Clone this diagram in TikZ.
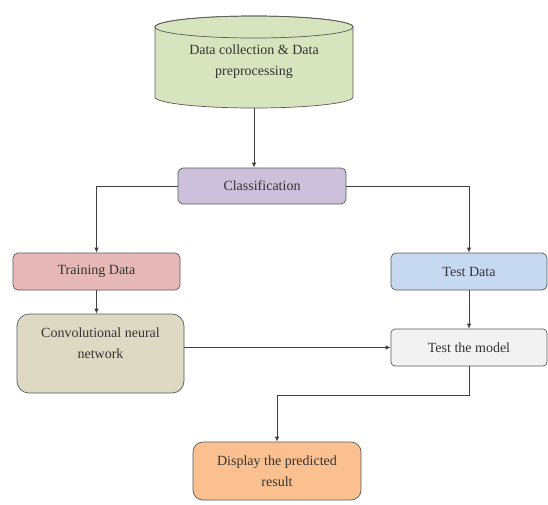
\documentclass[tikz,border=0pt]{standalone}
\usepackage{fontspec}
\setmainfont{Liberation Serif}
\usetikzlibrary{arrows.meta}
\definecolor{cylfill}{RGB}{215,228,189}
\definecolor{classfill}{RGB}{204,192,218}
\definecolor{trainfill}{RGB}{230,185,184}
\definecolor{testfill}{RGB}{198,217,241}
\definecolor{cnnfill}{RGB}{221,217,195}
\definecolor{modelfill}{RGB}{242,242,242}
\definecolor{dispfill}{RGB}{250,192,144}
\definecolor{edge}{RGB}{90,90,90}
\begin{document}
\begin{tikzpicture}[x=1pt,y=-1pt,
  txt/.style={font=\fontsize{14}{21}\selectfont, text=black!80, align=center},
  box/.style={txt, draw=edge, line width=0.7pt, rounded corners=5pt, inner sep=0pt},
  conn/.style={draw=black!75, line width=0.8pt, -{Latex[length=5pt,width=4.5pt]}}]
\useasboundingbox (0,0) rectangle (548,504);
\fill[white] (0,0) rectangle (548,504);
% cylinder
\filldraw[fill=cylfill, draw=edge, line width=0.7pt]
  (155,27) -- (155,97) arc (180:0:99 and 11) -- (353,27) arc (360:180:99 and 11) -- cycle;
\draw[edge, line width=0.7pt] (254,27) ellipse (99 and 11);
\node[txt, minimum width=198pt, minimum height=93pt, inner sep=0pt] (data) at (254,61.5)
  {Data collection \& Data\\preprocessing};
\node[box, fill=classfill, minimum width=168pt, minimum height=36pt] (class) at (262,186) {Classification};
\node[box, fill=trainfill, minimum width=167pt, minimum height=37pt] (train) at (96.5,271.5) {Training Data};
\node[box, fill=testfill, minimum width=156pt, minimum height=37pt] (test) at (469,271.5) {Test Data};
\node[box, fill=cnnfill, rounded corners=12pt, minimum width=167pt, minimum height=79pt,
  label={[txt, yshift=10pt]center:Convolutional neural\\network}] (cnn) at (100.5,353.5) {};
\node[box, fill=modelfill, rounded corners=4pt, minimum width=156pt, minimum height=37pt] (model) at (469,347.5) {Test the model};
\node[box, fill=dispfill, rounded corners=10pt, minimum width=168pt, minimum height=58pt] (disp) at (277,471) {Display the predicted\\result};
\coordinate (turn) at (469,395);
% connectors
\draw[conn] (data.south) -- (data.south |- class.north);
\draw[conn] (class.west) -| (train.north);
\draw[conn] (class.east) -| (test.north);
\draw[conn] (train.south) -- (train.south |- cnn.north);
\draw[conn] (test.south) -- (model.north);
\draw[conn] (cnn.east |- model.west) -- (model.west);
\draw[conn] (model.south) -- (turn) -| (disp.north);
\end{tikzpicture}
\end{document}
